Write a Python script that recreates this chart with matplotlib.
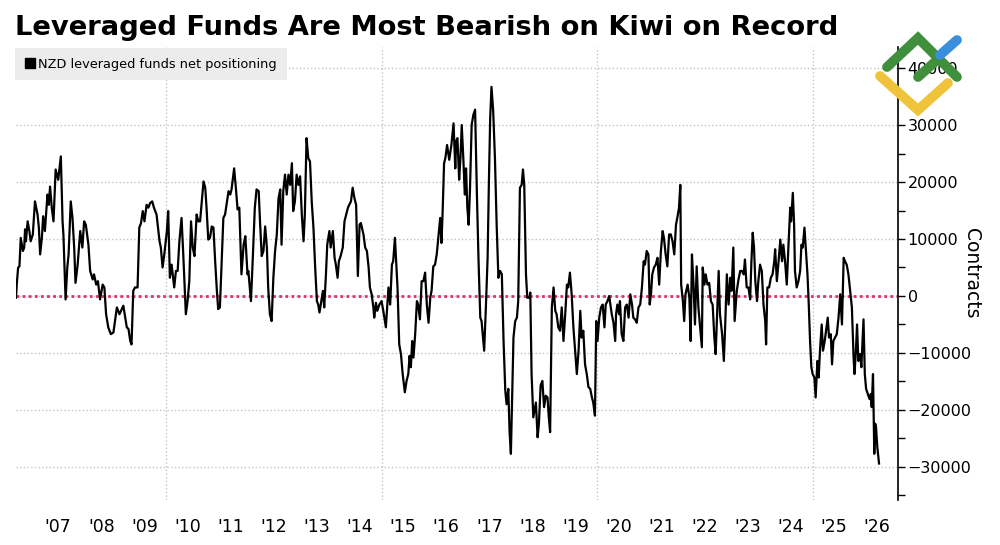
import matplotlib
matplotlib.use("Agg")
import matplotlib.pyplot as plt
from matplotlib.lines import Line2D
from matplotlib.ticker import MultipleLocator

# ---------------- data (decimal year, net contracts) ----------------
dates = [
    2006.52, 2006.54, 2006.57, 2006.60, 2006.63, 2006.68, 2006.71, 2006.73, 2006.75, 2006.79, 2006.83, 2006.86, 2006.91, 2006.96,
    2007.02, 2007.05, 2007.08, 2007.12, 2007.15, 2007.19, 2007.25, 2007.28, 2007.31, 2007.35, 2007.39, 2007.44, 2007.50, 2007.56, 2007.60, 2007.62, 2007.67, 2007.71, 2007.74, 2007.79, 2007.83, 2007.87, 2007.90, 2007.95,
    2008.01, 2008.06, 2008.10, 2008.14, 2008.20, 2008.24, 2008.30, 2008.33, 2008.38, 2008.42, 2008.47, 2008.53, 2008.57, 2008.61, 2008.66, 2008.72, 2008.78, 2008.86, 2008.92,
    2009.01, 2009.09, 2009.13, 2009.17, 2009.20, 2009.24, 2009.28, 2009.34, 2009.38, 2009.42, 2009.46, 2009.50, 2009.55, 2009.59, 2009.63, 2009.68, 2009.72, 2009.78, 2009.85, 2009.88, 2009.92, 2009.96,
    2010.02, 2010.05, 2010.09, 2010.13, 2010.19, 2010.23, 2010.27, 2010.31, 2010.36, 2010.40, 2010.46, 2010.50, 2010.54, 2010.58, 2010.62, 2010.66, 2010.71, 2010.75, 2010.79, 2010.83, 2010.87, 2010.91, 2010.94, 2010.98,
    2011.02, 2011.06, 2011.10, 2011.14, 2011.18, 2011.21, 2011.25, 2011.33, 2011.37, 2011.41, 2011.45, 2011.49, 2011.52, 2011.58, 2011.62, 2011.66, 2011.70, 2011.75, 2011.80, 2011.84, 2011.89, 2011.91, 2011.97,
    2012.01, 2012.06, 2012.10, 2012.15, 2012.18, 2012.22, 2012.26, 2012.30, 2012.34, 2012.37, 2012.41, 2012.45, 2012.49, 2012.53, 2012.57, 2012.61, 2012.65, 2012.68, 2012.72, 2012.76, 2012.80, 2012.84, 2012.88, 2012.92, 2012.95, 2012.99,
    2013.03, 2013.07, 2013.11, 2013.15, 2013.19, 2013.22, 2013.26, 2013.30, 2013.34, 2013.38, 2013.42, 2013.46, 2013.50, 2013.53, 2013.56, 2013.59, 2013.64, 2013.67, 2013.71, 2013.74, 2013.79, 2013.82, 2013.87, 2013.91, 2013.94, 2013.98,
    2014.01, 2014.05, 2014.10, 2014.14, 2014.18, 2014.22, 2014.25, 2014.29, 2014.33, 2014.37, 2014.41, 2014.45, 2014.49, 2014.52, 2014.58, 2014.62, 2014.66, 2014.70, 2014.73, 2014.77, 2014.81, 2014.83, 2014.87, 2014.90, 2014.95,
    2015.00, 2015.04, 2015.10, 2015.16, 2015.20, 2015.24, 2015.27, 2015.31, 2015.37, 2015.41, 2015.45, 2015.49, 2015.54, 2015.58, 2015.62, 2015.65, 2015.68, 2015.71, 2015.74, 2015.78, 2015.82, 2015.85, 2015.89, 2015.93, 2015.97,
    2016.01, 2016.05, 2016.09, 2016.13, 2016.16, 2016.20, 2016.24, 2016.28, 2016.33, 2016.36, 2016.39, 2016.42, 2016.45, 2016.48, 2016.52, 2016.57, 2016.62, 2016.67, 2016.71, 2016.73, 2016.76, 2016.80, 2016.83, 2016.86, 2016.90, 2016.93, 2016.96, 2016.99,
    2017.02, 2017.05, 2017.09, 2017.13, 2017.17, 2017.21, 2017.25, 2017.29, 2017.32, 2017.38, 2017.42, 2017.46, 2017.49, 2017.52, 2017.55, 2017.59, 2017.63, 2017.67, 2017.71, 2017.75, 2017.79, 2017.83, 2017.87, 2017.90, 2017.94, 2017.97,
    2018.00, 2018.02, 2018.06, 2018.10, 2018.14, 2018.17, 2018.21, 2018.25, 2018.28, 2018.31, 2018.35, 2018.38, 2018.43, 2018.45, 2018.48, 2018.52, 2018.56, 2018.58, 2018.62, 2018.65, 2018.69, 2018.73, 2018.77, 2018.81, 2018.85, 2018.88, 2018.91, 2018.95, 2018.99,
    2019.03, 2019.06, 2019.10, 2019.14, 2019.18, 2019.22, 2019.26, 2019.30, 2019.33, 2019.37, 2019.41, 2019.45, 2019.49, 2019.53, 2019.57, 2019.61, 2019.64, 2019.68, 2019.72, 2019.76, 2019.80, 2019.84, 2019.88, 2019.91, 2019.95, 2019.98,
    2020.01, 2020.05, 2020.09, 2020.13, 2020.17, 2020.20, 2020.24, 2020.28, 2020.34, 2020.38, 2020.42, 2020.44, 2020.47, 2020.51, 2020.53, 2020.57, 2020.61, 2020.65, 2020.69, 2020.73, 2020.77, 2020.81, 2020.84, 2020.88, 2020.92, 2020.96,
    2021.00, 2021.04, 2021.08, 2021.11, 2021.15, 2021.19, 2021.22, 2021.25, 2021.28, 2021.32, 2021.36, 2021.40, 2021.44, 2021.48, 2021.52, 2021.55, 2021.59, 2021.63, 2021.67, 2021.71, 2021.75, 2021.79, 2021.83, 2021.86, 2021.90, 2021.93, 2021.95, 2021.99,
    2022.02, 2022.05, 2022.10, 2022.14, 2022.17, 2022.20, 2022.24, 2022.27, 2022.31, 2022.35, 2022.39, 2022.43, 2022.45, 2022.49, 2022.52, 2022.56, 2022.60, 2022.64, 2022.68, 2022.72, 2022.75, 2022.79, 2022.82, 2022.85, 2022.90, 2022.94, 2022.97,
    2023.01, 2023.05, 2023.09, 2023.12, 2023.16, 2023.19, 2023.24, 2023.28, 2023.32, 2023.36, 2023.40, 2023.43, 2023.47, 2023.51, 2023.55, 2023.58, 2023.61, 2023.64, 2023.67, 2023.71, 2023.74, 2023.78, 2023.82, 2023.86, 2023.90, 2023.92, 2023.95, 2023.99,
    2024.03, 2024.07, 2024.11, 2024.13, 2024.17, 2024.21, 2024.25, 2024.29, 2024.32, 2024.36, 2024.40, 2024.44, 2024.48, 2024.50, 2024.54, 2024.57, 2024.59, 2024.63, 2024.67, 2024.71, 2024.74, 2024.77, 2024.81, 2024.85, 2024.88, 2024.91, 2024.94, 2024.97,
    2025.00, 2025.04, 2025.07, 2025.11, 2025.14, 2025.17, 2025.21, 2025.24, 2025.28, 2025.31, 2025.35, 2025.38, 2025.42, 2025.45, 2025.48, 2025.52, 2025.56, 2025.60, 2025.64, 2025.68, 2025.72, 2025.75, 2025.79, 2025.83, 2025.87, 2025.91, 2025.95, 2025.97,
    2026.00, 2026.03, 2026.06, 2026.10, 2026.13, 2026.18, 2026.21, 2026.24, 2026.28, 2026.32, 2026.35, 2026.37, 2026.40, 2026.43, 2026.45, 2026.47, 2026.50, 2026.54,
]

positions = [
    -300, 2300, 5000, 5200, 10200, 7900, 8500, 11700, 9600, 13100, 11400, 9600, 10800, 16600,
    14300, 12000, 7300, 10200, 14000, 11400, 17800, 16000, 19200, 15500, 13100, 22200, 20400, 24500, 13100, 10800, -600, 5000, 7300, 16600, 13700, 8500, 2300, 5500,
    11400, 8500, 13100, 12500, 9000, 4400, 2900, 3800, 2000, 2600, -600, 2000, 1500, -3200, -5500, -6700, -6400, -2000, -3200,
    -1700, -5500, -5800, -7900, -8500, 900, 1500, 1500, 12000, 12800, 14900, 13100, 16000, 15500, 16300, 16600, 15500, 14300, 9600, 8500, 5000, 7300,
    11400, 14900, 3200, 5500, 1500, 4400, 4400, 9600, 13700, 7300, -3200, -900, 2600, 13100, 8500, 7000, 14300, 13100, 13100, 16600, 20100, 19000, 15500, 9900,
    10200, 12200, 12000, 6100, 900, -2300, -2000, 13700, 14300, 16300, 18400, 17800, 18700, 22400, 19000, 15200, 15500, 3800, 9000, 10500, 3800, 4400, -900,
    6100, 15500, 18700, 18400, 13100, 7000, 7900, 12200, 8500, 1500, -3200, -4400, 3200, 7900, 10800, 17200, 18700, 9000, 18400, 21300, 17800, 21300, 19500, 23300, 14900, 16600,
    21300, 19500, 21000, 14300, 9600, 14300, 27700, 24200, 23600, 16600, 12000, 5000, -900, -1500, -2900, -1500, 900, -2000, 3800, 9000, 11400, 8500, 11400, 6700, 5500, 3200,
    6100, 7000, 8500, 13100, 14300, 15500, 16000, 16600, 19000, 17200, 16000, 3500, 12500, 12800, 10800, 8500, 7900, 5000, 1500, 300, -2000, -3800, -1200, -2600, -1500,
    -900, -2600, -5500, 1500, -1500, 5500, 6100, 10200, 1500, -8500, -10200, -13700, -16900, -14900, -13700, -10500, -12500, -7900, -10800, -6700, -900, -1500, -4100, 2600, 2600,
    4100, -1500, -4700, -300, 900, 5200, 5500, 7300, 11400, 13700, 9300, 15500, 23300, 24200, 26500, 23900, 26500, 30300, 22400, 27100, 27700, 20400, 24200, 30000, 23600, 17800, 22400, 15500,
    12500, 18400, 30000, 31800, 32700, 18400, 6100, -3800, -4400, -9600, -2000, 6700, 20100, 31200, 36700, 32400, 24200, 12500, 3200, 4400, 3800, -7900, -16600, -19000, -16300, -23900,
    -27700, -20700, -7300, -4400, -3800, -900, 19000, 19500, 22200, 19500, 3800, -300, -300, 600, -13700, -21300, -19500, -18700, -24800, -22400, -15700, -14900, -19500, -17500, -17800, -21300, -23900, -2000, 1500,
    -2600, -3200, -5500, -6100, -2000, -7900, -3200, 2000, 1500, 4100, 300, -5500, -9600, -13700, -9600, -2600, -7300, -6100, -12000, -13700, -16000, -16300, -17800, -18700, -21000, -4400,
    -7900, -3800, -2000, -1500, -5500, -1500, -900, 0, -3200, -4700, -7900, -3200, -1500, -3200, -900, -6700, -7900, -2000, -1500, -3800, 300, -1500, -3800, -4100, -4700, -2000,
    -1500, 1500, 6100, 5500, 7900, 7300, -1500, 300, 3800, 5000, 5500, 6700, 2000, 7900, 11400, 10200, 7300, 5200, 10800, 10800, 9600, 7300, 12500, 13700, 15500, 19500, 2000, -900,
    -4400, 300, 2000, -300, -7900, 7300, 1500, -5000, 5200, -2000, -5500, -9000, 5000, 2000, 3800, 2000, 2300, -900, -1500, -7300, -10200, -2000, 4400, -3200, -6700, -11400, -5500,
    3800, -1500, 3200, 900, 8500, -4400, 900, 2900, 4400, 4400, 3800, 6400, 1500, 1500, -600, 6100, 11100, 8500, 2600, -900, 2600, 5500, 4400, -1500, -4400, -8500, 1500, 1500,
    3200, 3800, 6100, 8200, 2600, 6100, 9900, 6100, 9000, 6100, 2000, 9000, 15500, 13100, 18100, 12500, 4400, 1500, 2600, 4400, 9000, 8500, 12000, 7300, 3800, -1500, -7900, -12500,
    -13700, -14300, -17800, -11400, -14300, -9600, -5000, -9600, -7900, -6100, -3800, -7300, -6700, -12000, -7900, -7300, -6700, -3800, 300, -5000, 6700, 6100, 5500, 3800, 900, -2000, -10800, -13700,
    -10200, -5000, -11400, -10200, -12500, -4100, -13700, -16300, -17200, -18100, -17200, -19500, -13700, -27700, -22400, -23000, -26500, -29400,
]

label_years = list(range(2007, 2027))
year_labels = ["'07", "'08", "'09", "'10", "'11", "'12", "'13", "'14", "'15", "'16",
               "'17", "'18", "'19", "'20", "'21", "'22", "'23", "'24", "'25", "'26"]
grid_years = [2010, 2015, 2020, 2025]
y_ticks = [-30000, -20000, -10000, 0, 10000, 20000, 30000, 40000]

title = "Leveraged Funds Are Most Bearish on Kiwi on Record"
series_name = "NZD leveraged funds net positioning"
y_title = "Contracts"

assert len(dates) == len(positions)

# ---------------- figure ----------------
fig = plt.figure(figsize=(10, 5.45), dpi=100)
ax = fig.add_axes([0.016, 0.0826, 0.882, 0.8312])

ax.plot(dates, positions, color="black", lw=1.6, zorder=3)
ax.axhline(0, color="#d8346a", lw=2.0, ls=(0, (1, 1.2)), zorder=2)

ax.set_xlim(2006.52, 2026.98)
ax.set_ylim(-35800, 43700)

# y axis on the right
ax.yaxis.tick_right()
ax.yaxis.set_label_position("right")
ax.set_yticks(y_ticks)
ax.yaxis.set_minor_locator(MultipleLocator(5000))
ax.tick_params(axis="y", which="both", direction="out", length=5, width=1,
               labelsize=11.5, pad=2, colors="black")
ax.set_ylabel(y_title, rotation=270, fontsize=13.5, labelpad=-7, va="bottom")

# x axis
ax.set_xticks([y + 0.5 for y in label_years])
ax.set_xticklabels(year_labels)
ax.set_xticks(grid_years, minor=True)
ax.tick_params(axis="x", which="both", length=0, labelsize=12.5, pad=13)

ax.grid(axis="y", which="major", ls=":", color="#c4c4c4", lw=1)
ax.grid(axis="x", which="minor", ls=":", color="#c4c4c4", lw=1)
ax.set_axisbelow(True)

for s in ["top", "left", "bottom"]:
    ax.spines[s].set_visible(False)
ax.spines["right"].set_linewidth(1.2)

# legend
handle = Line2D([], [], marker="s", color="black", ls="none", markersize=7.5)
leg = ax.legend([handle], [series_name], loc="upper left", bbox_to_anchor=(-0.001, 0.998),
                frameon=True, fancybox=False, facecolor="#ececec", edgecolor="none",
                framealpha=1, fontsize=9.3, borderpad=0.75, handlelength=0.75,
                handletextpad=0.3, borderaxespad=0)
leg.set_zorder(5)

# title
fig.text(0.015, 1 - 35 / 545, title, fontsize=19.7, fontweight="bold",
         ha="left", va="baseline")

# watermark logo (decoration)
def fp(pts):
    return [p[0] / 1000 for p in pts], [1 - p[1] / 545 for p in pts]

for pts, col in [
    ([(880, 76), (918, 110), (948, 83)], "#efc33a"),
    ([(887, 67), (918, 38), (957, 77)], "#3f8f3c"),
    ([(918, 77), (936, 61)], "#3f8f3c"),
    ([(940, 55), (957, 40)], "#3a8fdc"),
]:
    xs, ys = fp(pts)
    fig.add_artist(Line2D(xs, ys, color=col, lw=7, solid_capstyle="round",
                          solid_joinstyle="miter", transform=fig.transFigure, zorder=10))

fig.savefig("out.png", dpi=100)
